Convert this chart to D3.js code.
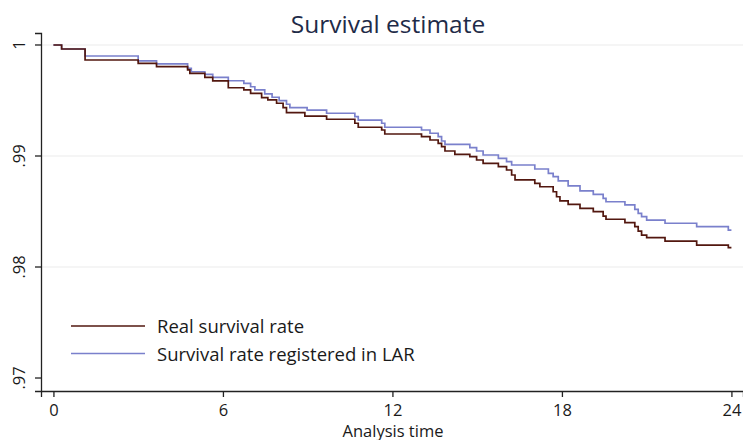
<!DOCTYPE html>
<html>
<head>
<meta charset="utf-8">
<script src="https://cdn.jsdelivr.net/npm/d3@7"></script>
<style>
  html, body { margin: 0; padding: 0; background: #fff; }
  svg { display: block; font-family: "Open Sans", "Noto Sans", sans-serif; }
</style>
</head>
<body>
<div id="chart"></div>
<script>
/* ── data ─────────────────────────────────────────── */
const seriesNames = ["Real survival rate", "Survival rate registered in LAR"];

const realTime = [0, 0.29, 1.12, 3.0, 3.65, 4.75, 4.83, 5.36, 5.64, 6.19, 6.74, 6.98, 7.37, 7.59,
  7.90, 8.13, 8.25, 8.90, 9.67, 10.67, 10.79, 11.62, 11.73, 13.03, 13.33, 13.62, 13.74, 13.86,
  14.21, 14.74, 14.98, 15.21, 15.75, 16.04, 16.22, 16.34, 17.04, 17.22, 17.69, 17.81, 17.93,
  18.22, 18.64, 19.11, 19.46, 19.56, 20.23, 20.58, 20.70, 20.82, 21.0, 21.65, 22.77, 23.89, 24.0];
const realSurv = [1, .99964, .99865, .99835, .99805, .99775, .99745, .99709, .99676, .99615, .99595,
  .99565, .99525, .99505, .99475, .99435, .9939, .9936, .99331, .99295, .99259, .99234, .99198,
  .99174, .99144, .99114, .99084, .99045, .99015, .98994, .98964, .98934, .98904, .98874, .98829,
  .98784, .98754, .98723, .98678, .98633, .98595, .98565, .98529, .98498, .98459, .9843, .98399,
  .98363, .98324, .98288, .98264, .98234, .98198, .98174, .98174];

const larTime = [0, 0.29, 1.12, 3.0, 3.65, 4.75, 4.88, 5.36, 5.64, 6.19, 6.74, 6.98, 7.13, 7.48,
  7.74, 7.99, 8.25, 8.37, 8.98, 9.67, 10.67, 10.79, 11.62, 11.73, 13.03, 13.33, 13.62, 13.74,
  13.86, 14.74, 14.98, 15.21, 15.75, 16.04, 16.22, 17.04, 17.52, 17.69, 17.87, 18.22, 18.64,
  19.11, 19.46, 19.56, 20.23, 20.58, 20.70, 20.82, 21.0, 21.65, 22.77, 23.89, 24.0];
const larSurv = [1, .99964, .99901, .99856, .99829, .9979, .99759, .99736, .99709, .99678, .99655,
  .99624, .99595, .99559, .99529, .99498, .99466, .99435, .99414, .99385, .99354, .99324, .99295,
  .99259, .99234, .99205, .99174, .99135, .99105, .99075, .99045, .99009, .98979, .98949, .98919,
  .98883, .98844, .98814, .98775, .9873, .98685, .98655, .98619, .98588, .98559, .9852, .98484,
  .98453, .98423, .98394, .98363, .98333, .98333];

const xTicks = [0, 6, 12, 18, 24];
const yTicks = [0.97, 0.98, 0.99, 1];
const yGrid  = [0.98, 0.99, 1];

/* ── layout ───────────────────────────────────────── */
const W = 743, H = 440;
const colors = ["#52170f", "#7a80cc"];
const ink = "#1a1a1a";

const x = d3.scaleLinear().domain([-0.44, 24.41]).range([41, 743]);
const y = d3.scaleLinear().domain([0.96883, 1.00108]).range([391, 33]);

const svg = d3.select("#chart").append("svg")
  .attr("width", W).attr("height", H);

// grid
svg.selectAll(".grid").data(yGrid).join("line")
  .attr("class", "grid")
  .attr("x1", x.range()[0]).attr("x2", x.range()[1])
  .attr("y1", d => y(d)).attr("y2", d => y(d))
  .attr("stroke", "#ececec").attr("stroke-width", 1.2);

// title
svg.append("text").attr("x", 388).attr("y", 33)
  .attr("text-anchor", "middle").attr("fill", "#1e2b48").attr("font-size", "24.5px")
  .text("Survival estimate");

// axes
const xAxis = svg.append("g").attr("transform", `translate(0,${y.range()[0]})`)
  .call(d3.axisBottom(x).tickValues(xTicks).tickSize(6).tickPadding(7).tickFormat(d => d));
xAxis.selectAll("text").attr("fill", ink).attr("font-size", "16.5px")
  .attr("font-family", "'Open Sans', sans-serif");

const yAxis = svg.append("g").attr("transform", `translate(${x.range()[0]},0)`)
  .call(d3.axisLeft(y).tickValues(yTicks).tickSize(6).tickPadding(4)
    .tickFormat(d => d === 1 ? "1" : d3.format(".2f")(d).replace(/^0/, "")));
yAxis.selectAll("text")
  .attr("fill", ink).attr("font-size", "16.5px")
  .attr("font-family", "'Open Sans', sans-serif")
  .attr("text-anchor", "middle").attr("dy", null)
  .attr("transform", d => `translate(-22,${y(d)}) rotate(-90)`)
  .attr("x", 0).attr("y", 6);
yAxis.selectAll(".tick").attr("transform", null);
yAxis.selectAll(".tick line").attr("y1", d => y(d)).attr("y2", d => y(d));

[xAxis, yAxis].forEach(g => g.selectAll(".domain, .tick line")
  .attr("stroke", "#222").attr("stroke-width", 1.3));

svg.append("text").attr("x", 393).attr("y", 436.5)
  .attr("text-anchor", "middle").attr("fill", ink).attr("font-size", "16.5px")
  .text("Analysis time");

// survival curves
const series = [
  realTime.map((t, i) => ({ t, s: realSurv[i] })),
  larTime.map((t, i) => ({ t, s: larSurv[i] }))
];
const line = d3.line().x(d => x(d.t)).y(d => y(d.s)).curve(d3.curveStepAfter);

svg.selectAll(".curve").data(series.slice().reverse()).join("path")
  .attr("class", "curve")
  .attr("fill", "none")
  .attr("stroke", (d, i) => colors[1 - i])
  .attr("stroke-width", 1.7)
  .attr("d", line);

// legend
const lg = svg.append("g");
seriesNames.forEach((name, i) => {
  const ly = 326 + i * 27.5;
  lg.append("line").attr("x1", 71).attr("x2", 145).attr("y1", ly).attr("y2", ly)
    .attr("stroke", colors[i]).attr("stroke-width", 1.7);
  lg.append("text").attr("x", 157).attr("y", ly + 7)
    .attr("fill", ink).attr("font-size", "18.5px")
    .text(name);
});
</script>
</body>
</html>
